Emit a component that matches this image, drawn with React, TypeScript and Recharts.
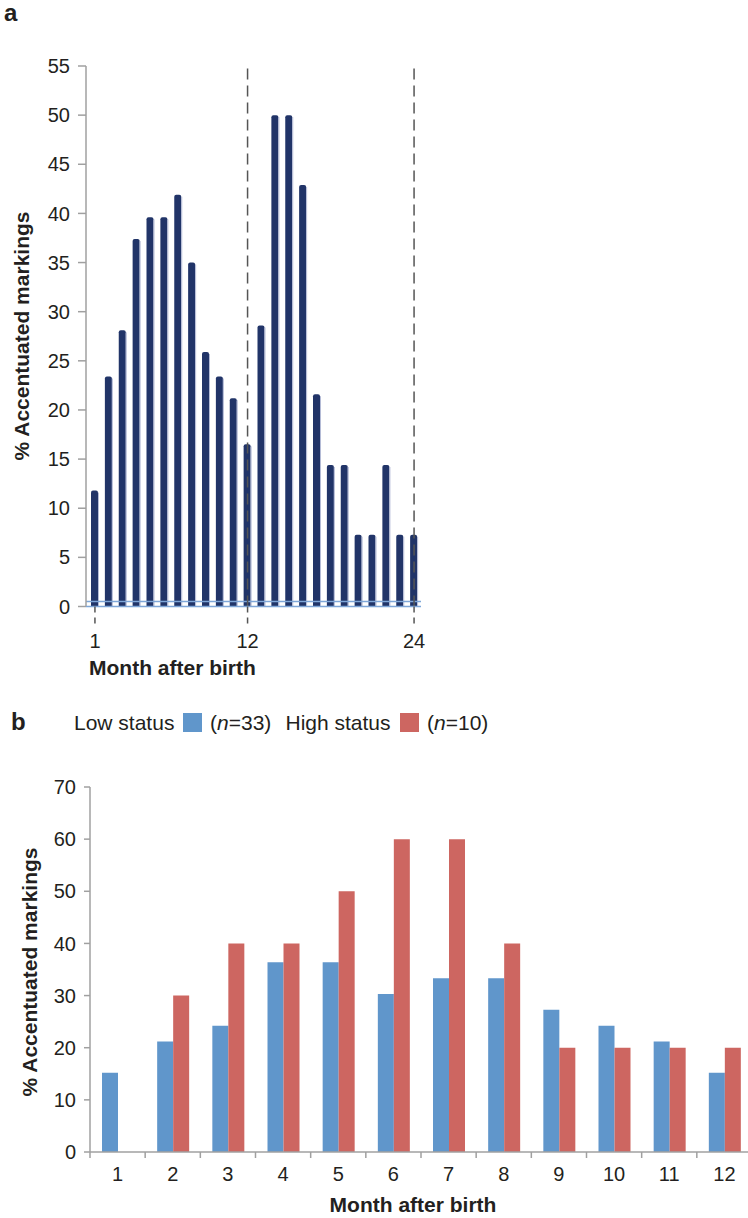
import React from 'react';
import { BarChart, Bar, XAxis, YAxis, ReferenceLine } from 'recharts';

// ---------- Data: panel a ----------
const monthsA = [1, 2, 3, 4, 5, 6, 7, 8, 9, 10, 11, 12, 13, 14, 15, 16, 17, 18, 19, 20, 21, 22, 23, 24];
const accentA = [11.8, 23.4, 28.1, 37.4, 39.6, 39.6, 41.9, 35.0, 25.9, 23.4, 21.2, 16.5, 28.6, 50.0, 50.0, 42.9, 21.6, 14.4, 14.4, 7.3, 7.3, 14.4, 7.3, 7.3];
const ticksA = [0, 5, 10, 15, 20, 25, 30, 35, 40, 45, 50, 55];
const labeledMonthsA = [1, 12, 24];
const dashedMonthsA = [12, 24];

// ---------- Data: panel b ----------
const monthsB = [1, 2, 3, 4, 5, 6, 7, 8, 9, 10, 11, 12];
const lowStatus = [15.2, 21.2, 24.2, 36.4, 36.4, 30.3, 33.3, 33.3, 27.3, 24.2, 21.2, 15.2];
const highStatus = [0, 30, 40, 40, 50, 60, 60, 40, 20, 20, 20, 20];
const ticksB = [0, 10, 20, 30, 40, 50, 60, 70];

const dataA = monthsA.map((m, i) => ({ month: m, value: accentA[i] }));
const dataB = monthsB.map((m, i) => ({ month: m, low: lowStatus[i], high: highStatus[i] }));

const FONT = "'Liberation Sans', Arial, Helvetica, sans-serif";
const TXT = '#231f20';
const AXIS = '#a0a0a0';
const NAVY = '#213468';
const BLUE = '#6096cb';
const RED = '#cd6661';
const FLOOR = '#7ea6d8';

// layout of panel b (for boundary ticks)
const B_WIDTH = 760;
const B_LEFT = 90;
const B_RIGHT_MARGIN = 8;
const B_BAND = (B_WIDTH - B_RIGHT_MARGIN - B_LEFT) / monthsB.length;

const NavyBar = (props: any) => {
  const { x, y, width, height } = props;
  if (!height || height <= 0) return null;
  const r = 2;
  const d = `M${x},${y + height} L${x},${y + r} Q${x},${y} ${x + r},${y} L${x + width - r},${y} Q${x + width},${y} ${x + width},${y + r} L${x + width},${y + height} Z`;
  return (
    <g>
      <path d={d} fill={NAVY} />
      <line x1={x + width + 0.5} x2={x + width + 0.5} y1={y + r} y2={y + height} stroke="#b4bbd6" strokeWidth={1} />
    </g>
  );
};

const TickA = (props: any) => {
  const { x, y, payload } = props;
  if (!labeledMonthsA.includes(payload.value)) return null;
  return (
    <g>
      <line x1={x} x2={x} y1={y} y2={y + 21} stroke="#555" strokeWidth={1.5} strokeDasharray="6 5" />
      <text x={x} y={y + 41} textAnchor="middle" fontSize={20} fill={TXT} fontFamily={FONT}>
        {payload.value}
      </text>
    </g>
  );
};

const TickB = (props: any) => {
  const { x, y, payload } = props;
  return (
    <g>
      <line x1={x - B_BAND / 2} x2={x - B_BAND / 2} y1={y} y2={y + 6} stroke={AXIS} strokeWidth={1.5} />
      <text x={x} y={y + 29} textAnchor="middle" fontSize={20} fill={TXT} fontFamily={FONT}>
        {payload.value}
      </text>
    </g>
  );
};

export default function App() {
  return (
    <div
      style={{
        position: 'absolute',
        left: 0,
        top: 0,
        width: 748,
        height: 1218,
        overflow: 'hidden',
        background: '#fff',
        fontFamily: FONT,
      }}
    >
      {/* Panel a */}
      <div style={{ position: 'absolute', left: 0, top: 0 }}>
        <BarChart
          width={440}
          height={700}
          data={dataA}
          margin={{ top: 66, right: 19, bottom: 33.5, left: 0 }}
          barSize={7}
        >
          <YAxis
            type="number"
            domain={[0, 55]}
            ticks={ticksA}
            width={86}
            axisLine={{ stroke: AXIS, strokeWidth: 1.5 }}
            tickLine={{ stroke: AXIS, strokeWidth: 1.5 }}
            tickSize={8}
            tickMargin={8}
            tick={{ fontSize: 20, fill: TXT, fontFamily: FONT }}
            interval={0}
          />
          <XAxis
            dataKey="month"
            type="category"
            height={60}
            padding={{ left: 2, right: 0 }}
            axisLine={{ stroke: FLOOR, strokeWidth: 1.5 }}
            tickLine={false}
            tickSize={0}
            tickMargin={0}
            interval={0}
            tick={TickA}
          />
          <ReferenceLine y={0.5} stroke={FLOOR} strokeWidth={1.5} ifOverflow="visible" />
          {dashedMonthsA.map((m) => (
            <ReferenceLine key={m} x={m} stroke="#555" strokeWidth={1.5} strokeDasharray="11 6" ifOverflow="visible" />
          ))}
          <Bar dataKey="value" shape={NavyBar} isAnimationActive={false} />
        </BarChart>
      </div>

      {/* Panel b */}
      <div style={{ position: 'absolute', left: 0, top: 700 }}>
        <BarChart
          width={B_WIDTH}
          height={518}
          data={dataB}
          margin={{ top: 87, right: B_RIGHT_MARGIN, bottom: 26, left: 0 }}
          barSize={16}
          barGap={0}
        >
          <YAxis
            type="number"
            domain={[0, 70]}
            ticks={ticksB}
            width={B_LEFT}
            axisLine={{ stroke: AXIS, strokeWidth: 1.5 }}
            tickLine={{ stroke: AXIS, strokeWidth: 1.5 }}
            tickSize={6}
            tickMargin={8}
            tick={{ fontSize: 20, fill: TXT, fontFamily: FONT }}
            interval={0}
          />
          <XAxis
            dataKey="month"
            type="category"
            height={40}
            axisLine={{ stroke: AXIS, strokeWidth: 1.5 }}
            tickLine={false}
            tickSize={0}
            tickMargin={0}
            interval={0}
            tick={TickB}
          />
          <Bar dataKey="low" name="Low status" fill={BLUE} isAnimationActive={false} />
          <Bar dataKey="high" name="High status" fill={RED} isAnimationActive={false} />
        </BarChart>
      </div>

      {/* Text overlay */}
      <svg
        width={748}
        height={1218}
        style={{ position: 'absolute', left: 0, top: 0, pointerEvents: 'none' }}
        fontFamily={FONT}
      >
        <text x={4} y={20.7} fontSize={24} fontWeight="bold" fill={TXT}>a</text>
        <text
          x={28.5}
          y={336}
          fontSize={21}
          fontWeight="bold"
          fill={TXT}
          textAnchor="middle"
          transform="rotate(-90 28.5 336)"
        >
          % Accentuated markings
        </text>
        <text x={89} y={675} fontSize={21} fontWeight="bold" fill={TXT}>Month after birth</text>

        <text x={11} y={729.5} fontSize={24} fontWeight="bold" fill={TXT}>b</text>
        <text x={74} y={729.5} fontSize={21} fill={TXT}>Low status</text>
        <rect x={183} y={713} width={19} height={19} fill={BLUE} />
        <text x={210} y={729.5} fontSize={21} fill={TXT}>
          (<tspan fontStyle="italic">n</tspan>=33)
        </text>
        <text x={285.5} y={729.5} fontSize={21} fill={TXT}>High status</text>
        <rect x={400} y={713} width={19} height={19} fill={RED} />
        <text x={427} y={729.5} fontSize={21} fill={TXT}>
          (<tspan fontStyle="italic">n</tspan>=10)
        </text>

        <text
          x={36.7}
          y={972}
          fontSize={21}
          fontWeight="bold"
          fill={TXT}
          textAnchor="middle"
          transform="rotate(-90 36.7 972)"
        >
          % Accentuated markings
        </text>
        <text x={413} y={1211.5} fontSize={21} fontWeight="bold" fill={TXT} textAnchor="middle">
          Month after birth
        </text>
      </svg>
    </div>
  );
}
